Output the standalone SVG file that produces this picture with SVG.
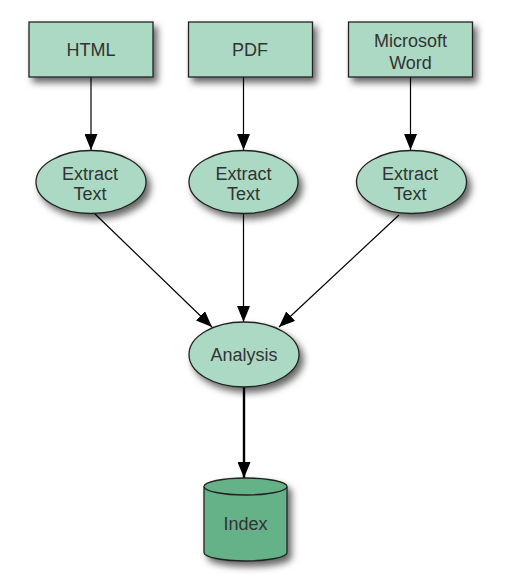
<svg xmlns="http://www.w3.org/2000/svg" width="508" height="587" viewBox="0 0 508 587">
<defs>
<filter id="sh" x="-20%" y="-20%" width="150%" height="160%">
<feDropShadow dx="4" dy="5" stdDeviation="3.5" flood-color="#000" flood-opacity="0.6"/>
</filter>
<marker id="ah2" viewBox="0 0 16 13" refX="16" refY="6.5" markerWidth="16" markerHeight="13" markerUnits="userSpaceOnUse" orient="auto">
<path d="M0,0 L16,6.5 L0,13 Z" fill="#000"/>
</marker>
</defs>
<style>
.box{fill:#abd9c4;stroke:#222;stroke-width:1.3;}
.cyl{fill:#65b289;stroke:#222;stroke-width:1.3;}
.t{font-family:"Liberation Sans",Arial,sans-serif;font-size:18px;fill:#333;text-anchor:middle;}
.e{stroke:#000;stroke-width:1.2;fill:none;marker-end:url(#ah2);}
.e2{stroke:#000;stroke-width:2.4;fill:none;marker-end:url(#ah2);}
</style>
<rect width="508" height="587" fill="#fff"/>
<g id="connectors">
<line class="e" x1="91" y1="77" x2="91" y2="150"/>
<line class="e" x1="243.5" y1="77" x2="243.5" y2="150"/>
<line class="e" x1="410.5" y1="77" x2="410.5" y2="150"/>
<line class="e" x1="94" y1="213" x2="212" y2="327"/>
<line class="e" x1="243.5" y1="213" x2="243.5" y2="322"/>
<line class="e" x1="399" y1="215" x2="279" y2="327"/>
<line class="e2" x1="244" y1="387" x2="244" y2="478"/>
</g>
<g id="html">
<rect class="box" x="29" y="22" width="124" height="55" filter="url(#sh)"/>
<text class="t" x="91" y="55.5">HTML</text>
</g>
<g id="pdf">
<rect class="box" x="188.5" y="22" width="124" height="55" filter="url(#sh)"/>
<text class="t" x="250" y="55.5">PDF</text>
</g>
<g id="word">
<rect class="box" x="348.5" y="22" width="124" height="55" filter="url(#sh)"/>
<text class="t" x="410.5" y="47">Microsoft</text>
<text class="t" x="410.5" y="68.5">Word</text>
</g>
<g id="extract1">
<ellipse class="box" cx="91" cy="182" rx="55" ry="31.5" filter="url(#sh)"/>
<text class="t" x="90" y="180">Extract</text>
<text class="t" x="90" y="199.5">Text</text>
</g>
<g id="extract2">
<ellipse class="box" cx="243.5" cy="182" rx="54.5" ry="31.5" filter="url(#sh)"/>
<text class="t" x="243.5" y="180">Extract</text>
<text class="t" x="243.5" y="199.5">Text</text>
</g>
<g id="extract3">
<ellipse class="box" cx="411.5" cy="182" rx="55" ry="31.5" filter="url(#sh)"/>
<text class="t" x="410" y="180">Extract</text>
<text class="t" x="410" y="199.5">Text</text>
</g>
<g id="analysis">
<ellipse class="box" cx="244" cy="354.5" rx="55" ry="32.5" filter="url(#sh)"/>
<text class="t" x="244" y="360.5">Analysis</text>
</g>
<g id="index">
<g filter="url(#sh)">
<path class="cyl" d="M204,486.5 L204,552.5 A41.5,8.5 0 0 0 287,552.5 L287,486.5 A41.5,8.5 0 0 0 204,486.5 Z"/>
<path class="cyl" d="M204,486.5 A41.5,8.5 0 0 0 287,486.5" fill="none"/>
</g>
<text class="t" x="245.5" y="529.5">Index</text>
</g>
</svg>
